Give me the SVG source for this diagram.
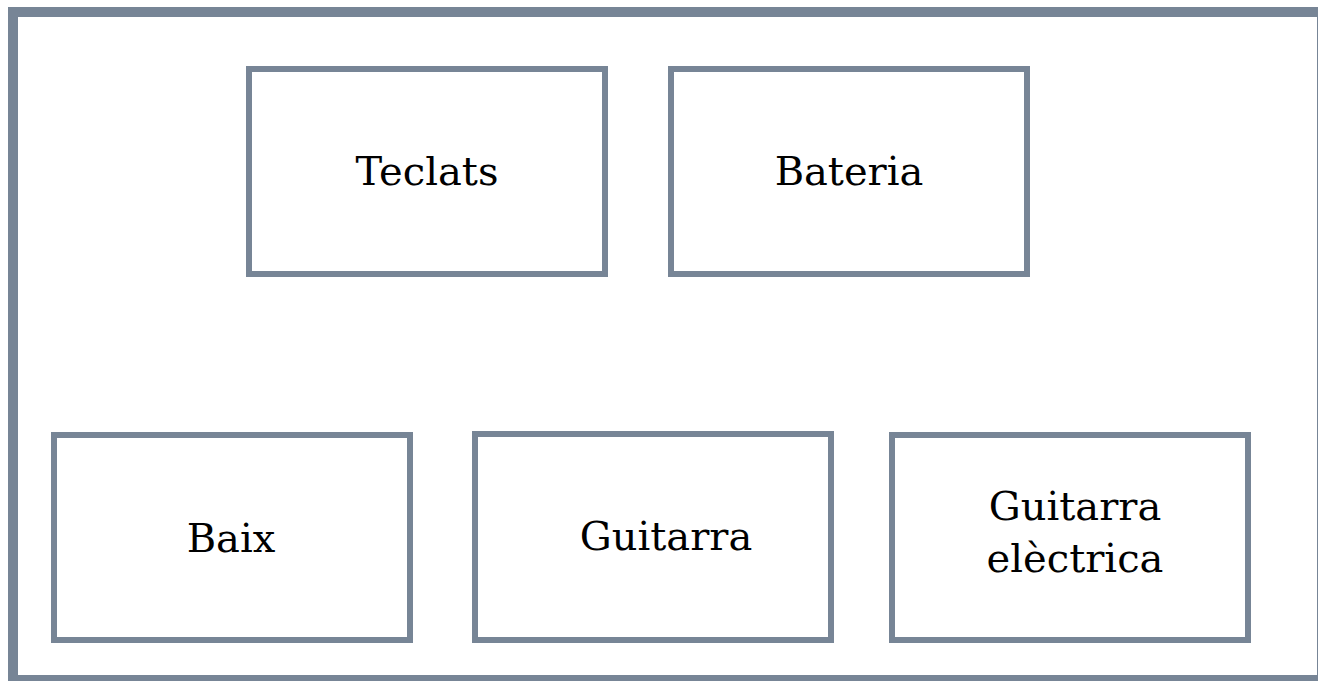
<svg xmlns="http://www.w3.org/2000/svg" width="1318" height="681" viewBox="0 0 1318 681">
<style>
.frame{fill:#ffffff;stroke:#778596;stroke-width:10}
.box{fill:#ffffff;stroke:#778596;stroke-width:6}
.lbl{font-family:"DejaVu Serif","Liberation Serif",serif;font-size:40px;fill:#000000;text-anchor:middle}
</style>
<rect x="0" y="0" width="1318" height="681" fill="#ffffff"/>
<rect class="frame" x="13" y="12" width="1309" height="668"/>
<g id="connectors"></g>
<g id="teclats"><rect class="box" x="249" y="69" width="356" height="205"/><text class="lbl" x="427" y="185">Teclats</text></g>
<g id="bateria"><rect class="box" x="671" y="69" width="356" height="205"/><text class="lbl" x="849" y="185">Bateria</text></g>
<g id="baix"><rect class="box" x="54" y="435" width="356" height="205"/><text class="lbl" x="231" y="552">Baix</text></g>
<g id="guitarra"><rect class="box" x="475" y="434" width="356" height="206"/><text class="lbl" x="666" y="550">Guitarra</text></g>
<g id="guitarra-electrica"><rect class="box" x="892" y="435" width="356" height="205"/><text class="lbl" x="1075" y="520">Guitarra</text><text class="lbl" x="1075" y="572">elèctrica</text></g>
</svg>
